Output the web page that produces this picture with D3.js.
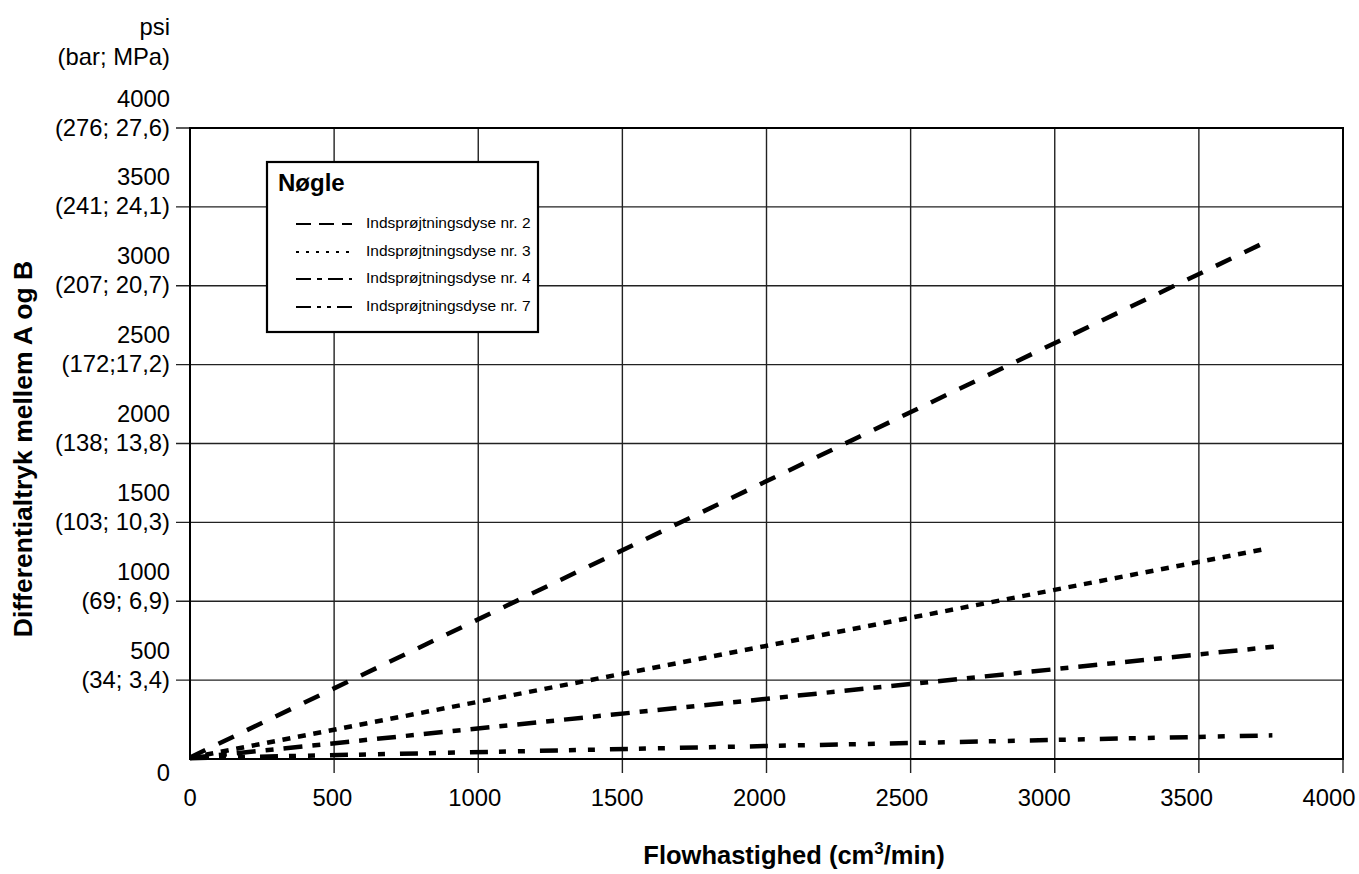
<!DOCTYPE html>
<html>
<head>
<meta charset="utf-8">
<script src="https://cdn.jsdelivr.net/npm/d3@7/dist/d3.min.js"></script>
<style>
  html, body { margin: 0; padding: 0; background: #fff; }
  svg { display: block; font-family: "Liberation Sans", Arial, Helvetica, sans-serif; }
</style>
</head>
<body>
<svg id="chart" width="1359" height="874"></svg>
<script>
// Differential pressure (psi) versus flow rate (cm3/min) for four injector nozzles
const seriesNames = ["Indsprøjtningsdyse nr. 2", "Indsprøjtningsdyse nr. 3",
                     "Indsprøjtningsdyse nr. 4", "Indsprøjtningsdyse nr. 7"];
const flowNr2 = [0, 3735];
const psiNr2  = [10, 3280];
const flowNr3 = [0, 3740];
const psiNr3  = [8, 1335];
const flowNr4 = [0, 3760];
const psiNr4  = [6, 712];
const flowNr7 = [0, 3755];
const psiNr7  = [5, 150];

const xTicks = [0, 500, 1000, 1500, 2000, 2500, 3000, 3500, 4000];
const yTicks = [0, 500, 1000, 1500, 2000, 2500, 3000, 3500, 4000];
const yTickMetric = ["", "(34; 3,4)", "(69; 6,9)", "(103; 10,3)", "(138; 13,8)",
                     "(172;17,2)", "(207; 20,7)", "(241; 24,1)", "(276; 27,6)"];

const series = [
  { name: seriesNames[0], flow: flowNr2, psi: psiNr2, dash: "17,14.6", legendDash: "15,8" },
  { name: seriesNames[1], flow: flowNr3, psi: psiNr3, dash: "8,7.7",   legendDash: "3,7" },
  { name: seriesNames[2], flow: flowNr4, psi: psiNr4, dash: "19,10,8,10", legendDash: "15,6,5,6" },
  { name: seriesNames[3], flow: flowNr7, psi: psiNr7, dash: "18,11,7,12,7,15", legendDash: "15,6,4,6,4,6" }
];

const svg = d3.select("#chart");
const plotLeft = 190, plotRight = 1343, plotTop = 128, plotBottom = 759;

const x = d3.scaleLinear().domain([0, 4000]).range([plotLeft, plotRight]);
const y = d3.scaleLinear().domain([0, 4000]).range([plotBottom, plotTop]);
// tick labels along the flow axis sit on a slightly narrower span so "4000" stays inside
const xLabel = d3.scaleLinear().domain([0, 4000]).range([plotLeft, plotRight - 14]);

const font = 23.8;

// grid lines, extended outside the frame as tick marks
const grid = svg.append("g").attr("stroke", "#222").attr("stroke-width", 1.4);
grid.selectAll("line.h").data(yTicks.filter(d => d > 0)).join("line")
  .attr("class", "h")
  .attr("x1", plotLeft - 14).attr("x2", plotRight)
  .attr("y1", d => y(d)).attr("y2", d => y(d));
grid.selectAll("line.v").data(xTicks.filter(d => d > 0)).join("line")
  .attr("class", "v")
  .attr("x1", d => x(d)).attr("x2", d => x(d))
  .attr("y1", plotTop).attr("y2", plotBottom + 14);

// frame
svg.append("rect")
  .attr("x", plotLeft).attr("y", plotTop)
  .attr("width", plotRight - plotLeft).attr("height", plotBottom - plotTop)
  .attr("fill", "none").attr("stroke", "#000").attr("stroke-width", 2);

// x tick labels
svg.append("g").selectAll("text").data(xTicks).join("text")
  .attr("x", d => xLabel(d)).attr("y", 797)
  .attr("text-anchor", "middle").attr("dominant-baseline", "central")
  .attr("font-size", font).text(d => d);

// y tick labels: psi value on top, (bar; MPa) below
const yl = svg.append("g").attr("text-anchor", "end").attr("font-size", font);
yl.selectAll("text.psi").data(yTicks).join("text")
  .attr("class", "psi")
  .attr("x", 170)
  .attr("y", d => d === 0 ? y(d) + 13 : y(d) - 30)
  .attr("dominant-baseline", "central")
  .text(d => d);
yl.selectAll("text.met").data(yTicks.filter(d => d > 0)).join("text")
  .attr("class", "met")
  .attr("x", 170)
  .attr("y", d => y(d) - 1)
  .attr("dominant-baseline", "central")
  .text(d => yTickMetric[yTicks.indexOf(d)]);
yl.append("text").attr("x", 170).attr("y", 26).attr("dominant-baseline", "central").text("psi");
yl.append("text").attr("x", 170).attr("y", 56).attr("dominant-baseline", "central").text("(bar; MPa)");

// axis titles
const xt = svg.append("text")
  .attr("x", 794).attr("y", 864)
  .attr("text-anchor", "middle").attr("font-size", 25.5).attr("font-weight", "bold");
xt.append("tspan").text("Flowhastighed (cm");
xt.append("tspan").attr("dy", -10).attr("font-size", 17).text("3");
xt.append("tspan").attr("dy", 10).text("/min)");

svg.append("text")
  .attr("transform", "translate(32,449) rotate(-90)")
  .attr("text-anchor", "middle").attr("font-size", 26.5).attr("font-weight", "bold")
  .text("Differentialtryk mellem A og B");

// series lines
const line = d3.line().x(d => x(d[0])).y(d => y(d[1]));
svg.append("g").selectAll("path").data(series).join("path")
  .attr("d", s => line(s.flow.map((f, i) => [f, s.psi[i]])))
  .attr("fill", "none").attr("stroke", "#000")
  .attr("stroke-width", 4.5).attr("stroke-dasharray", s => s.dash);

// legend
const lg = svg.append("g");
lg.append("rect").attr("x", 267).attr("y", 162).attr("width", 271).attr("height", 170)
  .attr("fill", "#fff").attr("stroke", "#000").attr("stroke-width", 2.2);
lg.append("text").attr("x", 278).attr("y", 191)
  .attr("font-size", 24).attr("font-weight", "bold").text("Nøgle");
const rowY = [222, 250, 277, 305];
const rows = lg.selectAll("g.row").data(series).join("g").attr("class", "row");
rows.append("line")
  .attr("x1", 296).attr("x2", 352)
  .attr("y1", (d, i) => rowY[i] + 2).attr("y2", (d, i) => rowY[i] + 2)
  .attr("stroke", "#000").attr("stroke-width", 1.8)
  .attr("stroke-dasharray", d => d.legendDash);
rows.append("text")
  .attr("x", 366).attr("y", (d, i) => rowY[i])
  .attr("dominant-baseline", "central")
  .attr("font-size", 15.5).text(d => d.name);
</script>
</body>
</html>
